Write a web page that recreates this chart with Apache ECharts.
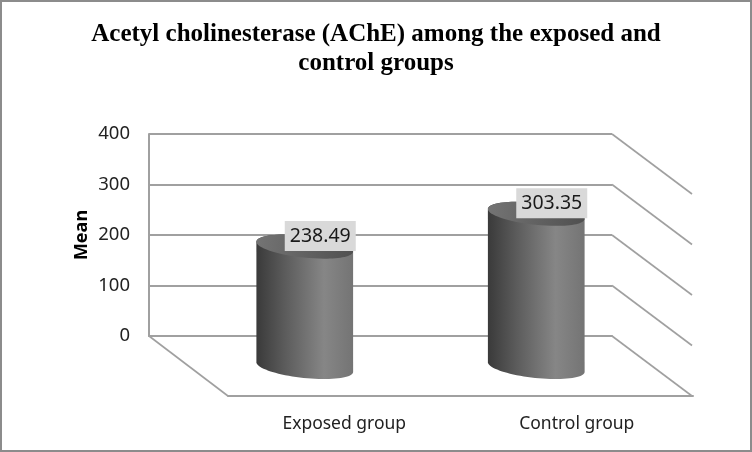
<!DOCTYPE html>
<html><head><meta charset="utf-8">
<style>html,body{margin:0;padding:0;background:#fff}#c{width:752px;height:452px}</style>
<script src="https://cdn.jsdelivr.net/npm/echarts@6/dist/echarts.min.js"></script>
</head><body><div id="c"></div>
<script>
const categories = ['Exposed group', 'Control group'];
const meanValues = [238.49, 303.35];
const yTicks = [0, 100, 200, 300, 400];
const titleText = 'Acetyl cholinesterase (AChE) among the exposed and\ncontrol groups';

const chart = echarts.init(document.getElementById('c'), null, {renderer: 'canvas'});
const gridColor = '#a0a0a0';
const depthX = 80, depthY = 60;

function ellipsePoints(cx, cy, rx, ry, rot, from, to, n) {
  const pts = [];
  const c = Math.cos(rot), s = Math.sin(rot);
  for (let i = 0; i <= n; i++) {
    const t = from + (to - from) * i / n;
    const x = rx * Math.cos(t), y = ry * Math.sin(t);
    pts.push([cx + x * c - y * s, cy + x * s + y * c]);
  }
  return pts;
}

const bodyGrad = new echarts.graphic.LinearGradient(0, 0, 1, 0, [
  {offset: 0, color: '#3a3a3a'},
  {offset: 0.3, color: '#5c5c5c'},
  {offset: 0.7, color: '#868686'},
  {offset: 1, color: '#747474'}
]);
const topGrad = new echarts.graphic.LinearGradient(0, 0, 1, 0, [
  {offset: 0, color: '#747474'},
  {offset: 1, color: '#505050'}
]);

chart.setOption({
  animation: false,
  backgroundColor: '#ffffff',
  title: {
    text: titleText, left: 'center', top: 15,
    textStyle: {fontFamily: 'Liberation Serif', fontWeight: 'bold', fontSize: 25, lineHeight: 29, color: '#000'}
  },
  grid: [
    {left: 149, top: 134, width: 463, height: 202},
    {left: 228, top: 194, width: 465, height: 202},
    {left: 189, top: 165, width: 463, height: 202}
  ],
  xAxis: [
    {gridIndex: 0, type: 'category', data: categories, axisLine: {lineStyle: {color: gridColor, width: 2}}, axisTick: {show: false}, axisLabel: {show: false}},
    {gridIndex: 1, type: 'category', data: categories, axisLine: {lineStyle: {color: gridColor, width: 2}}, axisTick: {show: false},
      axisLabel: {margin: 19, fontFamily: 'Noto Sans', fontSize: 17.5, color: '#222'}},
    {gridIndex: 2, type: 'category', data: categories, show: false}
  ],
  yAxis: [
    {gridIndex: 0, type: 'value', min: 0, max: 400, interval: 100,
      name: 'Mean', nameLocation: 'middle', nameGap: 58, nameRotate: 90, nameMoveOverlap: false,
      nameTextStyle: {fontFamily: 'Noto Sans', fontWeight: 'bold', fontSize: 18, color: '#000'},
      axisLine: {show: true, lineStyle: {color: gridColor, width: 2}}, axisTick: {show: false},
      axisLabel: {margin: 19, fontFamily: 'Noto Sans', fontSize: 18.5, color: '#222'},
      splitLine: {lineStyle: {color: gridColor, width: 2}}},
    {gridIndex: 1, type: 'value', min: 0, max: 400, show: false},
    {gridIndex: 2, type: 'value', min: 0, max: 400, show: false}
  ],
  series: [
    {
      type: 'custom', xAxisIndex: 0, yAxisIndex: 0, z: 1, silent: true,
      data: yTicks.map(v => [0, v]),
      renderItem(params, api) {
        const y = api.coord([0, api.value(1)])[1];
        const right = params.coordSys.x + params.coordSys.width;
        return {type: 'line', shape: {x1: right, y1: y, x2: right + depthX, y2: y + depthY},
          style: {stroke: gridColor, lineWidth: 1.6}};
      }
    },
    {
      type: 'custom', xAxisIndex: 0, yAxisIndex: 0, z: 1, silent: true,
      data: [[0, 0]],
      renderItem(params, api) {
        const y = api.coord([0, 0])[1];
        const left = params.coordSys.x;
        return {type: 'line', shape: {x1: left, y1: y, x2: left + depthX - 1, y2: y + depthY},
          style: {stroke: gridColor, lineWidth: 1.6}};
      }
    },
    {
      type: 'custom', xAxisIndex: 2, yAxisIndex: 2, z: 5, silent: true,
      data: meanValues.map((v, i) => [i, v]),
      renderItem(params, api) {
        const top = api.coord([api.value(0), api.value(1)]);
        const base = api.coord([api.value(0), 0]);
        const rx = api.size([1, 0])[0] * 0.21, ry = 11, rot = 6 * Math.PI / 180;
        const lower = ellipsePoints(base[0], base[1], rx, ry, rot, 0, Math.PI, 40);
        const upper = ellipsePoints(top[0], top[1], rx, ry, rot, Math.PI, 2 * Math.PI, 40);
        return {type: 'group', children: [
          {type: 'polygon', shape: {points: upper.concat(lower)}, style: {fill: bodyGrad}},
          {type: 'ellipse', shape: {cx: top[0], cy: top[1], rx: rx, ry: ry},
            rotation: -rot, originX: top[0], originY: top[1], style: {fill: topGrad}},
          {type: 'text', x: top[0] + 15.5, y: top[1] - 10.5, z2: 10,
            style: {text: api.value(1).toFixed(2), fill: '#1a1a1a', fontFamily: 'Noto Sans', fontSize: 19.5,
              align: 'center', verticalAlign: 'middle', backgroundColor: '#d9d9d9', padding: [6, 5, 4, 5]}}
        ]};
      }
    }
  ],
  graphic: [{type: 'rect', silent: true, z: 100, shape: {x: 1, y: 1, width: 750, height: 450},
    style: {fill: 'none', stroke: '#8c8c8c', lineWidth: 2}}]
});
</script></body></html>
